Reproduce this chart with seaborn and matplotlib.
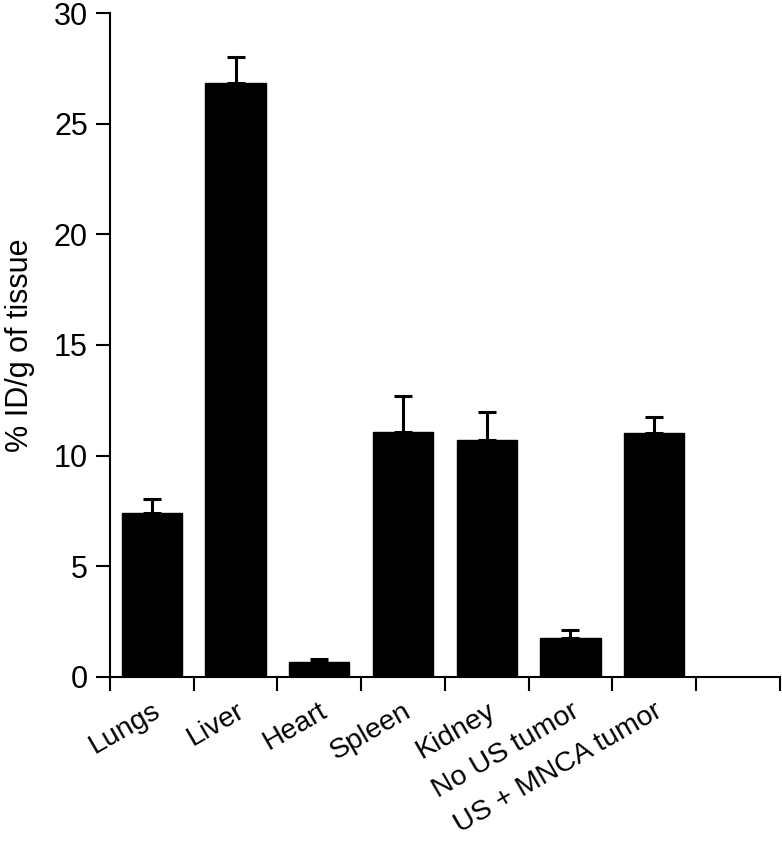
import matplotlib
matplotlib.use("Agg")
import matplotlib.pyplot as plt
import seaborn as sns
import numpy as np
import pandas as pd

categories = ["Lungs", "Liver", "Heart", "Spleen", "Kidney", "No US tumor", "US + MNCA tumor"]
values = [7.42, 26.83, 0.68, 11.08, 10.70, 1.75, 11.03]
err_upper = [0.60, 1.20, 0.15, 1.62, 1.28, 0.35, 0.72]
yticks = [0, 5, 10, 15, 20, 25, 30]
ylabel = "% ID/g of tissue"

sns.set_style("ticks")
plt.rcParams["font.family"] = ["Liberation Sans", "DejaVu Sans"]
plt.rcParams["text.color"] = "black"
plt.rcParams["axes.labelcolor"] = "black"
plt.rcParams["xtick.color"] = "black"
plt.rcParams["ytick.color"] = "black"

fig = plt.figure(figsize=(7.82, 8.46), dpi=100)
ax = fig.add_axes([0.1407, 0.1998, 0.8563, 0.7848])

df = pd.DataFrame({"organ": categories, "value": values})
sns.barplot(data=df, x="organ", y="value", order=categories, color="black",
            edgecolor="black", width=0.72, saturation=1, errorbar=None, ax=ax)

xpos = np.arange(len(categories))
ax.errorbar(xpos, values, yerr=[np.zeros(len(values)), err_upper], fmt="none",
            ecolor="black", elinewidth=2.2, capsize=6.5, capthick=2.2, zorder=3)

ax.set_xlim(-0.5, len(categories) + 0.5)
ax.set_ylim(0, 30)
ax.set_yticks(yticks)
ax.set_yticklabels([str(t) for t in yticks], fontsize=22)

# boundary ticks (major) and centered labels (minor)
bounds = np.arange(-0.5, len(categories) + 1.0, 1.0)
ax.set_xticks(bounds)
ax.set_xticklabels([])
ax.set_xticks(xpos, minor=True)
ax.set_xticklabels(categories, minor=True, rotation=30, ha="right",
                   rotation_mode="anchor", fontsize=20.5)
ax.tick_params(axis="x", which="minor", length=0, pad=15)
ax.tick_params(axis="both", which="major", length=10, width=1.5, direction="out", color="black")
ax.tick_params(axis="y", labelsize=22, pad=6)

for s in ["top", "right"]:
    ax.spines[s].set_visible(False)
for s in ["left", "bottom"]:
    ax.spines[s].set_linewidth(1.5)
    ax.spines[s].set_color("black")

ax.set_xlabel("")
ax.set_ylabel(ylabel, fontsize=22)
ax.yaxis.set_label_coords(-0.112, 0.5)

fig.savefig("out.png", dpi=100)
